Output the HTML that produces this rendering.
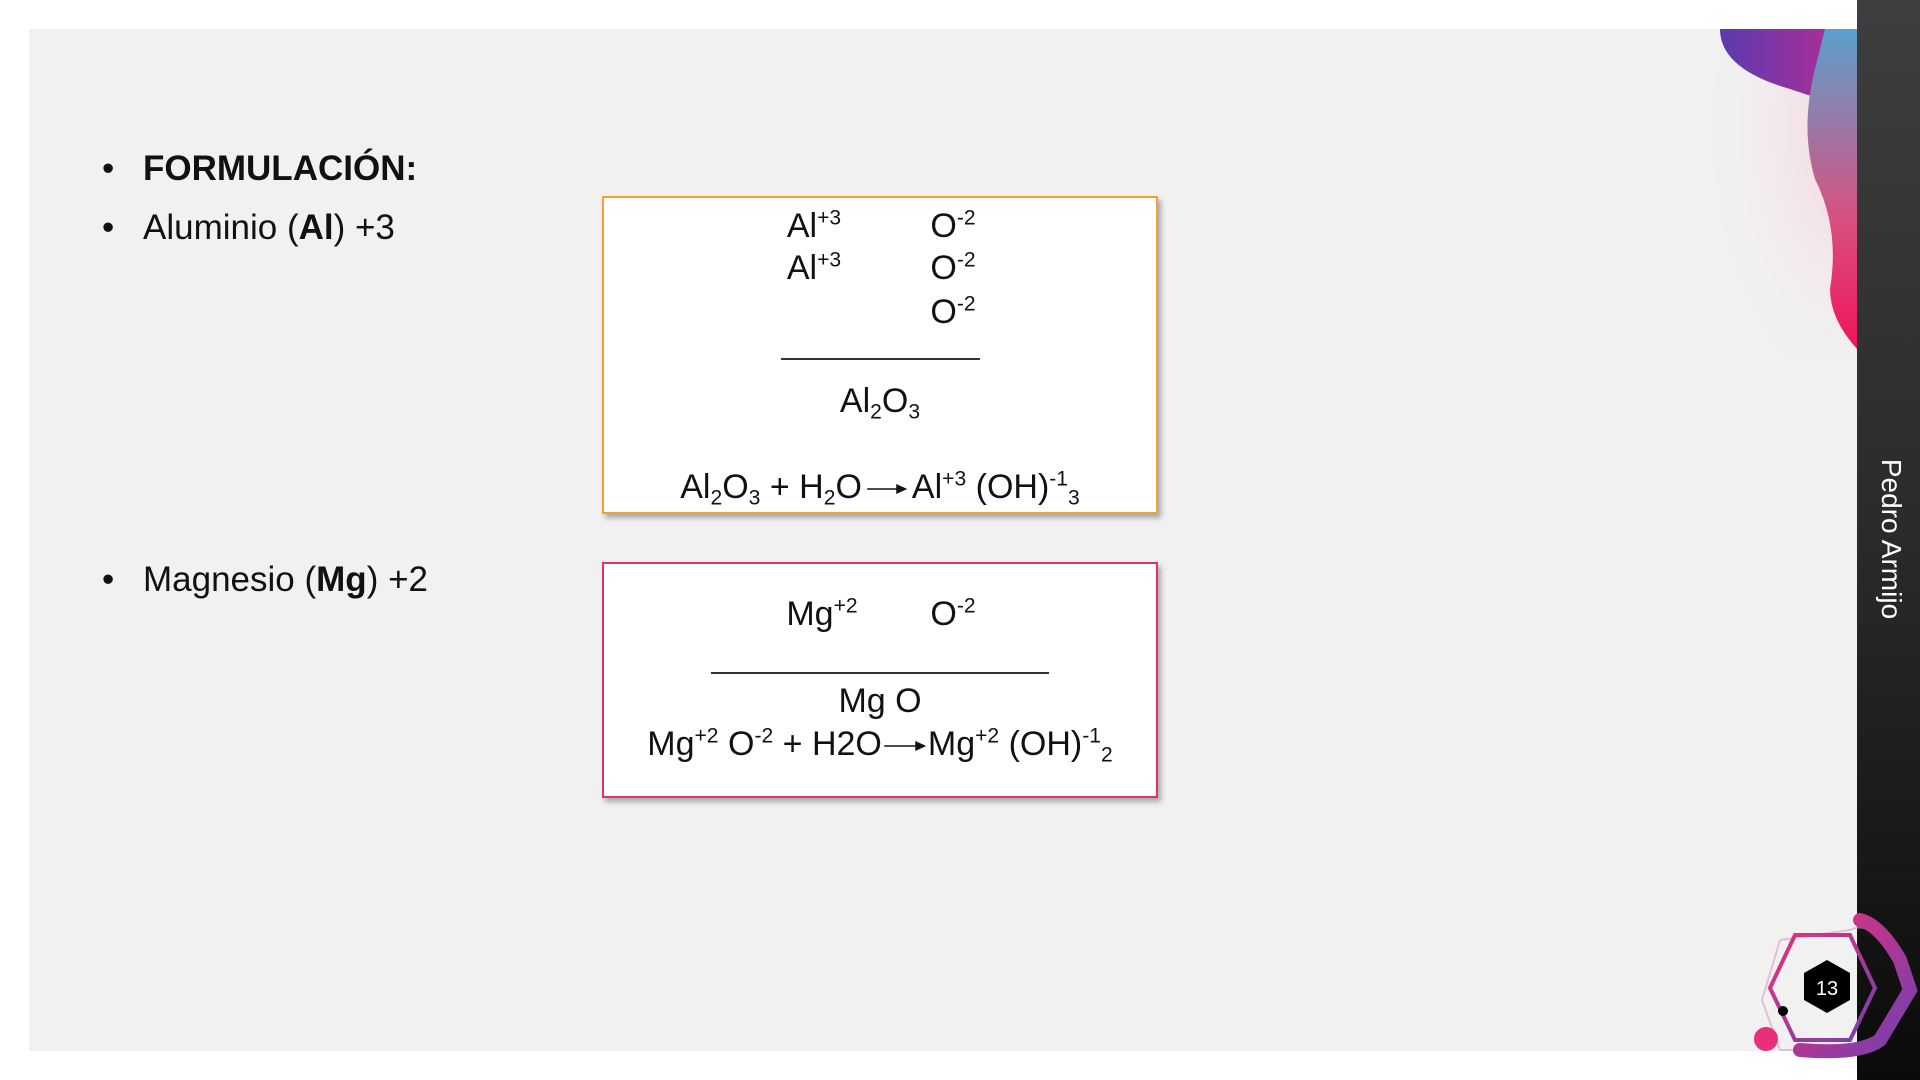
<!DOCTYPE html>
<html><head><meta charset="utf-8"><style>
body{margin:0;width:1920px;height:1080px;background:#fff;position:relative;overflow:hidden;font-family:"Liberation Sans",Arial,sans-serif;color:#111}
.panel{position:absolute;left:29px;top:29px;width:1828px;height:1022px;background:#f1f1f1}
.bar{position:absolute;left:1857px;top:0;width:63px;height:1080px;background:linear-gradient(#3e3e3e,#2a2a2a 50%,#0b0b0b)}
.name{position:absolute;left:1891px;top:539px;transform:translate(-50%,-50%) rotate(90deg);color:#fff;font-size:28px;white-space:nowrap}
.t{position:absolute;font-size:35px;white-space:nowrap;line-height:1}
.b{position:absolute;background:#fff;box-shadow:3px 4px 5px rgba(0,0,0,.3)}
.m{position:absolute;font-size:34px;white-space:nowrap;line-height:1;transform:translate(-50%,-50%)}
sup{font-size:62%;vertical-align:0.6em;line-height:0}
sub{font-size:62%;vertical-align:-0.3em;line-height:0}
.ln{position:absolute;height:1.5px;background:#333}
.ar{display:inline-block;vertical-align:middle;margin:0 4px}
</style></head><body>
<div class="panel"></div>
<svg style="position:absolute;left:1680px;top:29px" width="177" height="330">
<defs><linearGradient id="g1" x1="0" x2="1"><stop offset="0" stop-color="#5b3aae"/><stop offset="1" stop-color="#a5309a"/></linearGradient>
<linearGradient id="g2" x1="0" x2="0" y1="0" y2="1"><stop offset="0" stop-color="#5aa0cc"/><stop offset=".6" stop-color="#d85080"/><stop offset="1" stop-color="#f01458"/></linearGradient>
<radialGradient id="gp" cx="1" cy="0.3" r="0.9"><stop offset="0" stop-color="#f6cbd8" stop-opacity=".9"/><stop offset="1" stop-color="#f1f1f1" stop-opacity="0"/></radialGradient></defs>
<rect x="0" y="0" width="177" height="330" fill="url(#gp)"/>
<path d="M40 0 Q40 40 110 60 L140 70 L145 0Z" fill="url(#g1)"/>
<path d="M145 0 L177 0 L177 320 Q150 290 150 260 Q160 200 135 150 Q120 100 135 40Z" fill="url(#g2)"/>
</svg>
<div class="bar"></div>
<div class="name">Pedro Armijo</div>
<div class="t" style="left:102px;top:151px">•</div><div class="t" style="left:143px;top:151px;font-weight:bold">FORMULACIÓN:</div>
<div class="t" style="left:102px;top:210px">•</div><div class="t" style="left:143px;top:210px">Aluminio (<b>Al</b>) +3</div>
<div class="t" style="left:102px;top:562px">•</div><div class="t" style="left:143px;top:562px">Magnesio (<b>Mg</b>) +2</div>

<div class="b" style="left:602px;top:196px;width:552px;height:314px;border:2px solid #f4a030"></div>
<div class="m" style="left:814px;top:226px">Al<sup>+3</sup></div>
<div class="m" style="left:814px;top:268px">Al<sup>+3</sup></div>
<div class="m" style="left:953px;top:226px">O<sup>-2</sup></div>
<div class="m" style="left:953px;top:268px">O<sup>-2</sup></div>
<div class="m" style="left:953px;top:312px">O<sup>-2</sup></div>
<div class="ln" style="left:781px;top:358px;width:199px"></div>
<div class="m" style="left:880px;top:401px">Al<sub>2</sub>O<sub>3</sub></div>
<div class="m" style="left:880px;top:487px">Al<sub>2</sub>O<sub>3</sub> + H<sub>2</sub>O<svg class="ar" width="42" height="12"><line x1="1" y1="6" x2="32" y2="6" stroke="#111" stroke-width="1.5"/><polygon points="30,1 41,6 30,11" fill="#111"/></svg>Al<sup>+3</sup> (OH)<sup>-1</sup><sub>3</sub></div>

<div class="b" style="left:602px;top:562px;width:552px;height:232px;border:2px solid #e0306f"></div>
<div class="m" style="left:822px;top:614px">Mg<sup>+2</sup></div>
<div class="m" style="left:953px;top:614px">O<sup>-2</sup></div>
<div class="ln" style="left:711px;top:672px;width:338px"></div>
<div class="m" style="left:880px;top:701px">Mg O</div>
<div class="m" style="left:880px;top:744px">Mg<sup>+2</sup> O<sup>-2</sup> + H2O<svg class="ar" width="44" height="12" style="margin:0 1px"><line x1="1" y1="6" x2="34" y2="6" stroke="#111" stroke-width="1.5"/><polygon points="32,1 43,6 32,11" fill="#111"/></svg>Mg<sup>+2</sup> (OH)<sup>-1</sup><sub>2</sub></div>

<svg style="position:absolute;left:1740px;top:900px" width="180" height="180">
<defs><linearGradient id="g3" x1="0" x2="1" y1="0" y2="1"><stop offset="0" stop-color="#e8307a"/><stop offset="1" stop-color="#7040b0"/></linearGradient></defs>
<path d="M110 30 Q130 20 150 50 L170 85 L130 150 L40 150 L22 100 L40 40Z" fill="none" stroke="#d8a0c0" stroke-width="2" opacity=".6"/>
<path d="M120 20 Q140 25 160 60 L170 90 L140 140 Q120 155 60 150" fill="none" stroke="url(#g3)" stroke-width="14" stroke-linecap="round"/>
<polygon points="45,35 100,35 125,88 100,140 45,140 20,88" fill="none" stroke="url(#g3)" stroke-width="4" transform="translate(10,0)"/>
<polygon points="87,60 110,73 110,100 87,113 64,100 64,73" fill="#000"/>
<text x="87" y="95" fill="#fff" font-size="20" text-anchor="middle" font-family="Liberation Sans">13</text>
<circle cx="43" cy="111" r="5" fill="#000"/>
<circle cx="26" cy="139" r="12" fill="#e8307a"/>
</svg>
</body></html>
